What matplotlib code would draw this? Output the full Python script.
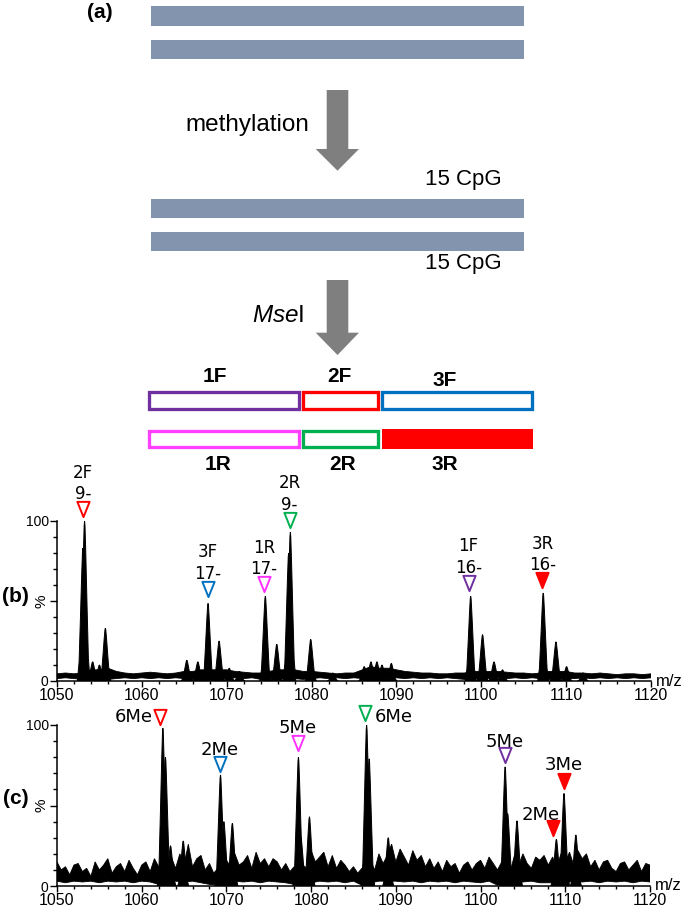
import matplotlib.pyplot as plt
from matplotlib.patches import Rectangle, Polygon
from matplotlib.path import Path
from matplotlib.ticker import MultipleLocator
import numpy as np

plt.rcParams['font.family'] = ['Liberation Sans', 'DejaVu Sans']
plt.rcParams['mathtext.fontset'] = 'custom'
plt.rcParams['mathtext.rm'] = 'Liberation Sans'
plt.rcParams['mathtext.it'] = 'Liberation Sans:italic'

# ---- data -------------------------------------------------------------
mz_grid = list(range(1050, 1121))
mz_half = [1050 + 0.5 * i for i in range(141)]

# panel (b): peak list
b_mz = [1053.05, 1053.25, 1054.2, 1055.0, 1055.7, 1065.3, 1066.6, 1067.8, 1069.1,
        1070.3, 1071.5, 1074.55, 1075.9, 1077.3, 1077.5, 1079.9, 1082.5, 1086.2,
        1087.0, 1087.7, 1088.3, 1089.4, 1098.75, 1100.15, 1101.5, 1102.5, 1107.3,
        1108.8, 1110.05, 1112.0]
b_int = [83, 100, 12, 10, 33, 13, 12, 48.5, 25,
         8, 6, 53, 23, 80, 93, 26, 5, 9,
         12, 12, 10, 11, 53, 29, 12, 7, 55,
         24.5, 9, 5]
b_noise_hi = [4.5, 5, 4.5, 5, 7, 7, 8, 6, 5, 4.5, 5, 5.5, 5, 4.5, 5, 6, 6, 7, 7, 7,
              7, 6, 5.5, 5, 5, 6, 7, 7, 7, 6, 6, 5.5, 5, 4.5, 5, 5, 7, 9, 8, 8,
              7, 6, 5.5, 5, 5, 4.5, 4.5, 5, 5, 6, 6, 6, 6, 5.5, 5, 5, 4.5, 5, 6, 6,
              6, 5, 5, 4.5, 5, 4.5, 4, 4.5, 4.5, 4, 4.5]
b_noise_lo = [1.5, 2, 1.5, 1, 1, 1.5, 1, 1.5, 2, 1.5, 2, 1.5, 2, 1.5, 2, 1.5, 1, 1, 1, 1.5,
              1.5, 2, 1.5, 2, 1, 1, 1.5, 1, 1.5, 1, 1.5, 2, 1.5, 2, 1.5, 2, 1.5, 2, 2, 1.5,
              2, 1.5, 2, 1.5, 2, 1.5, 2, 1.5, 1, 1, 1.5, 1.5, 2, 1.5, 2, 1.5, 2, 1.5, 1, 1,
              1.5, 1.5, 2, 1.5, 2, 1.5, 2, 1.5, 2, 1.5, 2]
b_labels = ['2F\n9-', '3F\n17-', '1R\n17-', '2R\n9-', '1F\n16-', '3R\n16-']
b_mark_x = [1053.1, 1067.8, 1074.4, 1077.4, 1098.5, 1107.2]
b_mark_y = [107.2, 57.5, 60.4, 100.5, 61.3, 62.9]
b_colors = ['#FF0000', '#0070C0', '#FF33FF', '#00B050', '#7030A0', '#FF0000']
b_filled = [False, False, False, False, False, True]

# panel (c)
c_mz = [1062.5, 1062.8, 1063.4, 1064.9, 1069.3, 1069.7, 1070.7, 1078.5, 1078.8,
        1079.8, 1086.55, 1086.85, 1089.1, 1102.9, 1103.2, 1104.3, 1108.95, 1109.85,
        1111.25]
c_int = [98, 80, 25, 28, 69, 40, 39, 80, 30,
         43, 100, 79, 30, 74, 45, 40.5, 29, 57.5,
         31.7]
# noisy baseline, top edge read every 0.5 m/z
c_noise_top = [15, 10, 12, 7, 13, 14, 9, 11, 6, 15,
               10, 13, 17, 8, 12, 14, 9, 16, 11, 7,
               13, 15, 9, 17, 12, 10, 14, 18, 11, 20,
               13, 26, 12, 17, 19, 10, 14, 8, 11, 9,
               16, 12, 20, 13, 15, 19, 11, 21, 14, 17,
               12, 17, 15, 10, 14, 9, 12, 8, 13, 11,
               22, 15, 18, 21, 12, 19, 11, 16, 13, 9,
               12, 8, 11, 13, 16, 10, 20, 14, 19, 26,
               15, 23, 18, 13, 22, 16, 19, 12, 17, 11,
               15, 9, 16, 12, 14, 8, 13, 15, 10, 14,
               16, 11, 18, 14, 10, 15, 12, 9, 19, 13,
               20, 14, 11, 18, 16, 19, 13, 18, 12, 20,
               15, 21, 13, 22, 17, 20, 12, 16, 10, 15,
               16, 11, 9, 14, 15, 10, 13, 16, 9, 14,
               13]
c_noise_lo = [3, 2, 3, 2.5, 3, 2, 3, 2.5, 3, 2, 3, 2.5, 1, 2, 3, 2.5, 3, 2, 1, 0.5,
              2, 3, 2.5, 3, 2, 3, 2.5, 2, 1, 0.5, 2, 3, 2.5, 3, 2, 3, 0.5, 2, 3, 3,
              3, 2.5, 3, 2, 3, 2.5, 3, 2, 3, 2.5, 2, 3, 0.5, 2, 3, 2.5, 3, 2, 2, 2,
              2, 3, 2.5, 3, 2, 3, 2.5, 3, 2, 3, 2.5]
c_labels = ['6Me', '2Me', '5Me', '6Me', '5Me', '2Me', '3Me']
c_mark_x = [1062.14, 1069.2, 1078.4, 1086.4, 1102.87, 1108.6, 1109.8]
c_mark_y = [104.7, 75.9, 88.8, 107.3, 81.6, 36.0, 65.3]
c_colors = ['#FF0000', '#0070C0', '#FF33FF', '#00B050', '#7030A0', '#FF0000', '#FF0000']
c_filled = [False, False, False, False, False, True, True]

frag_top = ['1F', '2F', '3F']
frag_top_colors = ['#7030A0', '#FF0000', '#0070C0']
frag_bot = ['1R', '2R', '3R']
frag_bot_colors = ['#FF40FF', '#00B050', '#FF0000']
frag_bot_filled = [False, False, True]

# ---- figure -----------------------------------------------------------
W, H = 685, 908
fig = plt.figure(figsize=(W / 100, H / 100), dpi=100)

# overlay in pixel coordinates for the schematic (a)
ov = fig.add_axes([0, 0, 1, 1])
ov.set_xlim(0, W)
ov.set_ylim(H, 0)
ov.axis('off')

bar_col = '#8394AF'
arrow_col = '#7F7F7F'
for y0, y1 in [(6.3, 25.7), (39.7, 58.7), (199, 217.7), (232, 251)]:
    ov.add_patch(Rectangle((151, y0), 373.5, y1 - y0, fc=bar_col, ec='none'))

for top, base, tip in [(90, 149, 170.7), (280, 332.7, 355)]:
    ov.add_patch(Polygon([(326.7, top), (348.3, top), (348.3, base), (359, base),
                          (337.5, tip), (315.7, base), (326.7, base)],
                         closed=True, fc=arrow_col, ec='none'))

ov.text(86.7, 13, '(a)', fontsize=15, fontweight='bold', ha='left', va='center')
ov.text(185, 125, 'methylation', fontsize=17.5, ha='left', va='center')
ov.text(463, 179, '15 CpG', fontsize=16, ha='center', va='center')
ov.text(463, 263, '15 CpG', fontsize=16, ha='center', va='center')
ov.text(304, 316, r'$\mathit{Mse}$I', fontsize=17.5, ha='right', va='center')

edges = [147.3, 301.2, 379.7, 534]
lw_px = 3.3
for i in range(3):
    x0, x1 = edges[i] + 0.5, edges[i + 1] - 0.5
    ov.add_patch(Rectangle((x0 + lw_px / 2, 390 + lw_px / 2), x1 - x0 - lw_px,
                           20.7 - lw_px, fc='white', ec=frag_top_colors[i],
                           lw=lw_px * 0.72))
    if frag_bot_filled[i]:
        ov.add_patch(Rectangle((x0 + 1.5, 429.3), x1 - x0 - 1.5, 19.7,
                               fc=frag_bot_colors[i], ec='none'))
    else:
        ov.add_patch(Rectangle((x0 + lw_px / 2, 429.3 + lw_px / 2), x1 - x0 - lw_px,
                               19.7 - lw_px, fc='white', ec=frag_bot_colors[i],
                               lw=lw_px * 0.72))
top_lab_pos = [(215, 376.7), (339, 376), (445, 380)]
bot_lab_pos = [(218, 464), (343, 464), (445, 464)]
for i in range(3):
    ov.text(*top_lab_pos[i], frag_top[i], fontsize=15, fontweight='bold',
            ha='center', va='center')
    ov.text(*bot_lab_pos[i], frag_bot[i], fontsize=15, fontweight='bold',
            ha='center', va='center')

ov.text(29, 597, '(b)', fontsize=15, fontweight='bold', ha='right', va='center')
ov.text(29, 799, '(c)', fontsize=15, fontweight='bold', ha='right', va='center')

# triangle marker, taller than wide
tri = Path([(-0.4, 0.5), (0.4, 0.5), (0, -0.5), (-0.4, 0.5)],
           [Path.MOVETO, Path.LINETO, Path.LINETO, Path.CLOSEPOLY])

# peak outline (m/z offsets and fraction of peak height)
prof_dx = [-0.65, -0.45, -0.3, -0.14, -0.05, 0, 0.05, 0.14, 0.3, 0.45, 0.65]
prof_dy = [0, 0.14, 0.45, 0.8, 0.97, 1, 0.97, 0.8, 0.45, 0.14, 0]


def spectrum_axes(rect, mz, inten, top_x, top_y, lo):
    ax = fig.add_axes(rect)
    # noisy baseline as one polygon: top edge forward, bottom edge back
    verts = list(zip(top_x, top_y)) + list(zip(mz_grid[::-1], lo[::-1]))
    ax.add_patch(Polygon(verts, closed=True, fc='black', ec='black', lw=0.6))
    for c, h in zip(mz, inten):
        xs = [c + d for d in prof_dx]
        ys = [d * h for d in prof_dy]
        ax.fill(xs, ys, color='black', lw=0.7)
    ax.set_xlim(1050, 1120)
    ax.set_ylim(0, 100)
    for s in ['top', 'right']:
        ax.spines[s].set_visible(False)
    for s in ['left', 'bottom']:
        ax.spines[s].set_linewidth(1.1)
    ax.set_xticks(range(1050, 1121, 10))
    ax.xaxis.set_minor_locator(MultipleLocator(2))
    ax.set_yticks([0, 50, 100])
    ax.set_yticklabels(['0', '', '100'])
    ax.yaxis.set_minor_locator(MultipleLocator(10))
    ax.tick_params(axis='x', which='major', length=4, width=1, labelsize=11.5, pad=0.8)
    ax.tick_params(axis='x', which='minor', length=2.5, width=1)
    ax.tick_params(axis='y', which='major', length=5, width=1, labelsize=10, pad=1)
    ax.tick_params(axis='y', which='minor', length=3, width=1)
    ax.patch.set_alpha(0)
    ax.text(-0.026, 0.5, '%', transform=ax.transAxes, rotation=90,
            ha='center', va='center', fontsize=11)
    ax.text(1.008, 0.0, 'm/z', transform=ax.transAxes, ha='left', va='center',
            fontsize=12)
    return ax


axb = spectrum_axes([57 / W, (H - 681) / H, 594 / W, 160 / H],
                    b_mz, b_int, mz_grid, b_noise_hi, b_noise_lo)
axc = spectrum_axes([57 / W, (H - 886) / H, 593 / W, 161 / H],
                    c_mz, c_int, mz_half, c_noise_top, c_noise_lo)

for x, y, lab, col, f in zip(b_mark_x, b_mark_y, b_labels, b_colors, b_filled):
    axb.plot([x], [y], ls='none', marker=tri, ms=11, mew=1.4, mec=col,
             mfc=col if f else 'white', clip_on=False, zorder=5)
    axb.annotate(lab, (x, y), xytext=(0, 4.5), textcoords='offset points',
                 ha='center', va='bottom', fontsize=12, family='DejaVu Sans',
                 linespacing=1.25, annotation_clip=False)

c_offsets = [(-5, 0.5), (0, 3.7), (0, 4.4), (6.5, -2.7), (0, 2.8), (-9, 2.8), (0, 4.8)]
c_align = [('right', 'center'), ('center', 'bottom'), ('center', 'bottom'),
           ('left', 'center'), ('center', 'bottom'), ('center', 'bottom'),
           ('center', 'bottom')]
for i in range(len(c_labels)):
    col = c_colors[i]
    axc.plot([c_mark_x[i]], [c_mark_y[i]], ls='none', marker=tri, ms=11, mew=1.4,
             mec=col, mfc=col if c_filled[i] else 'white', clip_on=False, zorder=5)
    axc.annotate(c_labels[i], (c_mark_x[i], c_mark_y[i]), xytext=c_offsets[i],
                 textcoords='offset points', ha=c_align[i][0], va=c_align[i][1],
                 fontsize=13, family='DejaVu Sans', annotation_clip=False)

fig.savefig('out.png', dpi=100)
